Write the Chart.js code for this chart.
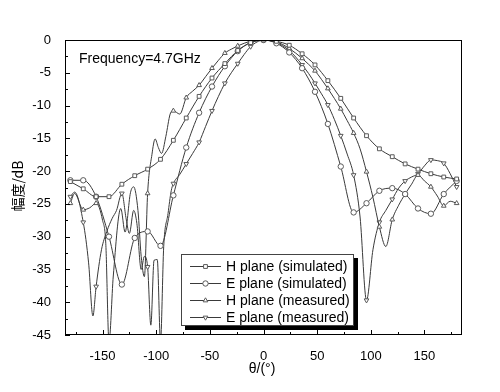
<!DOCTYPE html>
<html>
<head>
<meta charset="utf-8">
<script src="https://cdn.jsdelivr.net/npm/chart.js@4.4.0/dist/chart.umd.min.js"></script>
<style>
  html, body { margin: 0; padding: 0; background: #fff; }
</style>
</head>
<body>
<canvas id="chart" width="500" height="392"></canvas>
<script>
// simulated patterns, one point every 12 degrees
const simAngle = [-180,-168,-156,-144,-132,-120,-108,-96,-84,-72,-60,-48,-36,-24,-12,0,12,24,36,48,60,72,84,96,108,120,132,144,156,168,180];
const hSimDb = [-21.6,-22.7,-23.9,-23.9,-22.0,-20.7,-19.7,-18.2,-15.3,-11.9,-8.6,-5.8,-3.6,-1.6,-0.4,0,-0.2,-0.8,-2.1,-3.8,-6.2,-8.9,-11.9,-14.6,-16.6,-17.8,-18.9,-19.7,-20.4,-20.9,-21.2];
const eSimDb = [-21.4,-21.4,-23.9,-30.0,-37.3,-30.2,-29.2,-31.4,-23.7,-16.4,-11.1,-7.1,-4.0,-1.7,-0.4,0,-0.5,-1.9,-4.3,-7.9,-12.8,-19.3,-26.3,-24.9,-23.0,-22.6,-23.5,-25.7,-26.5,-23.5,-21.5];

// measured patterns
const hMeasAngle = [-180,-176,-168,-162,-156,-150,-147,-144,-140,-133,-129,-124,-121,-117,-114,-111,-108,-104,-101,-98,-95,-91,-87,-84,-78,-72,-66,-60,-54,-48,-42,-36,-30,-24,-18,-12,-6,0,6,12,18,24,30,36,42,48,54,60,66,72,78,84,90,96,102,108,114,120,126,132,138,144,150,156,162,168,174,180];
const hMeasDb = [-24.9,-23.4,-25.9,-25.6,-24.9,-27.5,-31,-46,-36,-25.7,-29.3,-23.3,-22.4,-26,-33,-36.1,-23.4,-17.5,-15.1,-16.4,-17.3,-14.7,-11.3,-10.8,-11.3,-8.8,-7.8,-6.9,-5.6,-4.3,-3.1,-2.0,-1.4,-0.9,-0.5,-0.2,-0.1,0,-0.1,-0.3,-0.7,-1.3,-2.0,-2.8,-3.7,-4.7,-6.0,-7.4,-8.9,-10.5,-12.3,-14.2,-16.6,-20.1,-24,-28.5,-31.5,-27.4,-25.2,-23.5,-22,-20.6,-21.5,-22.4,-23.8,-25.3,-24.6,-24.9];
const eMeasAngle = [-180,-176,-168,-163,-159,-156,-151,-146,-141,-137,-132,-128,-125,-121,-118,-114,-111,-108,-105,-102,-99,-96,-93,-89,-86,-84,-78,-72,-66,-60,-54,-48,-42,-36,-30,-24,-18,-12,-6,0,6,12,18,24,30,36,42,48,54,60,66,72,78,84,90,96,102,108,114,120,126,132,138,144,150,156,162,168,174,180];
const eMeasDb = [-23.9,-23.2,-27.8,-34,-42.1,-37.6,-32,-29.2,-27.2,-26,-23.4,-27.3,-29.5,-26,-28,-35,-33,-34.6,-43.5,-33.6,-33.5,-46,-31.5,-26.5,-23,-21.9,-20.5,-18.9,-17.3,-15.6,-13.2,-10.8,-8.6,-6.6,-5.0,-3.6,-2.2,-1.0,-0.3,0,-0.1,-0.4,-0.9,-1.6,-2.6,-3.8,-5.1,-6.6,-8.2,-9.9,-12.1,-14.6,-17.4,-20.6,-27,-39.7,-32,-27.8,-26.0,-24.3,-22.6,-21.5,-20.9,-20.4,-19.2,-18.3,-18.4,-18.8,-20.4,-22.4];

const seriesNames = ['H plane (simulated)', 'E plane (simulated)', 'H plane (measured)', 'E plane (measured)'];
const xTickLabels = [-150,-100,-50,0,50,100,150];
const yTickLabels = [0,-5,-10,-15,-20,-25,-30,-35,-40,-45];
const noteText = 'Frequency=4.7GHz';
const xTitle = 'θ/(°)';
const yTitle = '幅度/dB';

const FONT = '"Liberation Sans", Arial, sans-serif';
const LINE = '#3a3a3a';
const MARK = '#5a5a5a';

function pts(xs, ys) {
  return xs.map((x, i) => ({x: x, y: ys[i]}));
}

function series(label, data, style, rot, everyPoint) {
  return {
    label: label,
    data: data,
    showLine: true,
    borderColor: LINE,
    borderWidth: 1,
    tension: 0.35,
    cubicInterpolationMode: 'monotone',
    pointStyle: style,
    rotation: rot,
    pointRadius: everyPoint ? 2.7 : (c => (c.raw && c.raw.x % 12 === 0 ? 2.7 : 0)),
    pointBackgroundColor: '#fff',
    pointBorderColor: MARK,
    pointBorderWidth: 1
  };
}

const framePlugin = {
  id: 'frame',
  afterDraw(chart) {
    const ctx = chart.ctx;
    const a = chart.chartArea;
    const xs = chart.scales.x, ys = chart.scales.y;
    ctx.save();
    ctx.strokeStyle = '#000';
    ctx.lineWidth = 1;
    ctx.strokeRect(a.left + 0.5, a.top + 0.5, a.right - a.left - 1, a.bottom - a.top - 1);

    // inward ticks
    ctx.beginPath();
    for (let v = -175; v <= 175; v += 25) {
      const px = Math.round(xs.getPixelForValue(v)) + 0.5;
      const len = v % 50 === 0 ? 5 : 3;
      ctx.moveTo(px, a.bottom);
      ctx.lineTo(px, a.bottom - len);
    }
    for (let v = -45; v <= 0; v += 2.5) {
      const py = Math.round(ys.getPixelForValue(v)) + 0.5;
      const len = v % 5 === 0 ? 5 : 3;
      ctx.moveTo(a.left, py);
      ctx.lineTo(a.left + len, py);
    }
    ctx.stroke();

    // note and axis titles
    ctx.fillStyle = '#000';
    ctx.font = '14px ' + FONT;
    ctx.textBaseline = 'middle';
    ctx.textAlign = 'left';
    ctx.fillText(noteText, 79, 59);
    ctx.font = '14px ' + FONT;
    ctx.textAlign = 'center';
    ctx.fillText(xTitle, 262, 369);
    ctx.save();
    ctx.translate(18, 186);
    ctx.rotate(-Math.PI / 2);
    ctx.font = '14px "Noto Sans CJK SC", ' + FONT;
    ctx.fillText(yTitle, 0, 0);
    ctx.restore();

    // legend box with shadow
    const bx = 181, by = 254, bw = 172, bh = 71;
    ctx.fillStyle = '#000';
    ctx.fillRect(bx + 4, by + 4, bw + 1, bh + 1);
    ctx.fillStyle = '#fff';
    ctx.fillRect(bx, by, bw, bh);
    ctx.strokeStyle = '#444';
    ctx.strokeRect(bx + 0.5, by + 0.5, bw, bh);
    ctx.font = '14px ' + FONT;
    ctx.textAlign = 'left';
    chart.data.datasets.forEach((ds, i) => {
      const y = 266 + i * 17;
      ctx.strokeStyle = LINE;
      ctx.beginPath();
      ctx.moveTo(190, y + 0.5);
      ctx.lineTo(221, y + 0.5);
      ctx.stroke();
      ctx.fillStyle = '#fff';
      ctx.strokeStyle = MARK;
      Chart.helpers.drawPoint(ctx, {pointStyle: ds.pointStyle, radius: 2.7, rotation: ds.rotation, borderWidth: 1}, 205.5, y + 0.5);
      ctx.fillStyle = '#000';
      ctx.fillText(ds.label, 226, y + 1);
    });
    ctx.restore();
  }
};

new Chart(document.getElementById('chart'), {
  type: 'scatter',
  data: {
    datasets: [
      series(seriesNames[0], pts(simAngle, hSimDb), 'rect', 0, true),
      series(seriesNames[1], pts(simAngle, eSimDb), 'circle', 0, true),
      series(seriesNames[2], pts(hMeasAngle, hMeasDb), 'triangle', 0, false),
      series(seriesNames[3], pts(eMeasAngle, eMeasDb), 'triangle', 180, false)
    ]
  },
  options: {
    responsive: false,
    animation: false,
    layout: {padding: {left: 0, top: 40, right: 38, bottom: 0}},
    plugins: {legend: {display: false}, tooltip: {enabled: false}},
    scales: {
      x: {
        type: 'linear', min: -185, max: 185,
        afterFit: s => { s.height = 57; },
        afterBuildTicks: s => { s.ticks = xTickLabels.map(v => ({value: v})); },
        grid: {display: false},
        border: {display: false},
        ticks: {color: '#000', font: {family: FONT, size: 13}, padding: 6, maxRotation: 0}
      },
      y: {
        type: 'linear', min: -45, max: 0,
        afterFit: s => { s.width = 65; },
        afterBuildTicks: s => { s.ticks = yTickLabels.map(v => ({value: v})); },
        grid: {display: false},
        border: {display: false},
        ticks: {color: '#000', font: {family: FONT, size: 13}, padding: 6}
      }
    }
  },
  plugins: [framePlugin]
});
</script>
</body>
</html>
